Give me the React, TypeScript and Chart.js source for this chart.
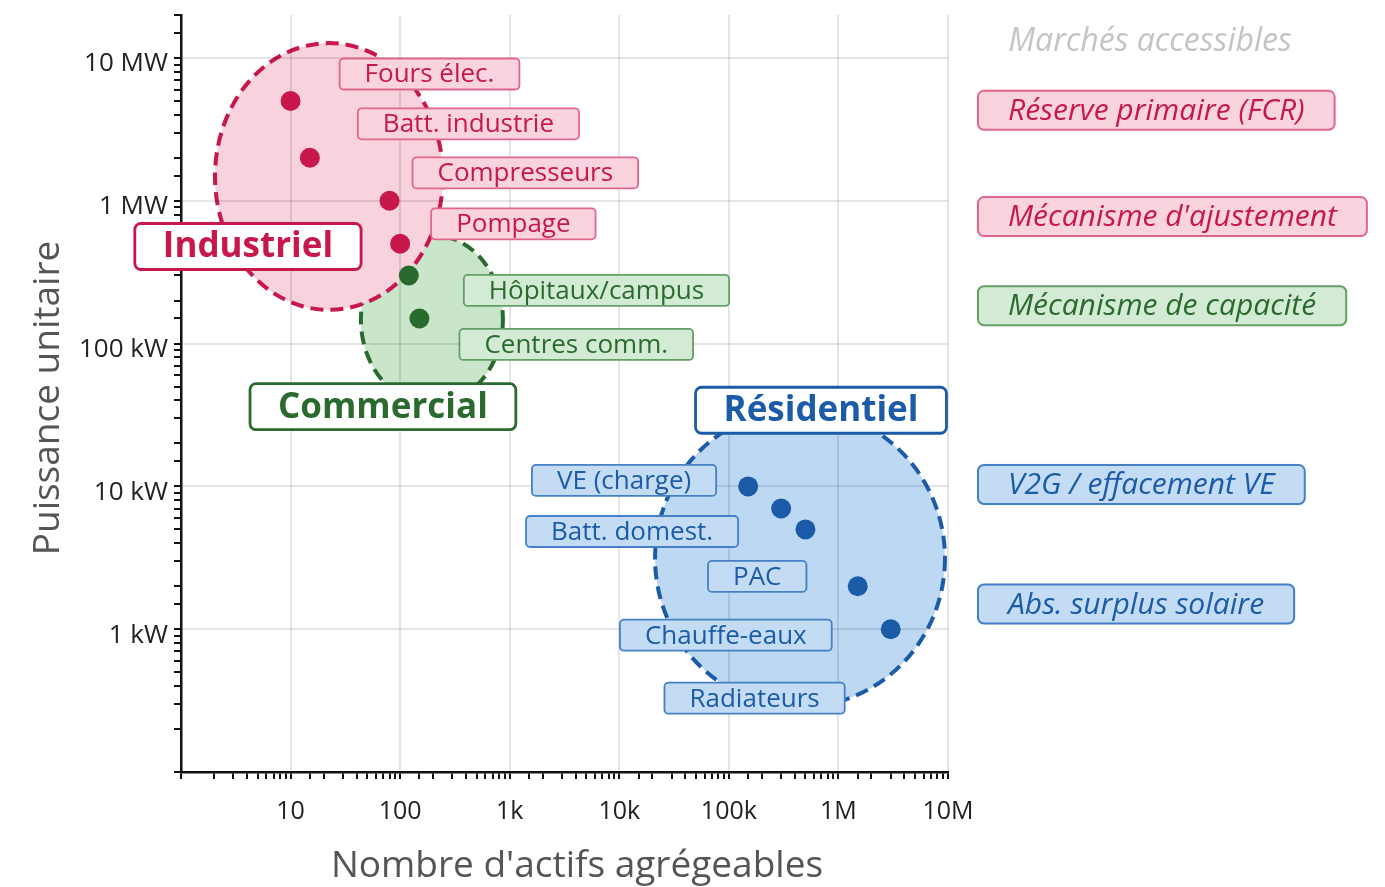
import React, { useEffect, useRef } from 'react';
import { Chart, registerables } from 'chart.js';

Chart.register(...registerables);

// ---------- DATA ----------
const industrialNames = ['Fours élec.', 'Batt. industrie', 'Compresseurs', 'Pompage'];
const industrialCount = [10, 15, 80, 100];
const industrialPowerKW = [5000, 2000, 1000, 500];

const commercialNames = ['Hôpitaux/campus', 'Centres comm.'];
const commercialCount = [120, 150];
const commercialPowerKW = [300, 150];

const residentialNames = ['VE (charge)', 'Batt. domest.', 'PAC', 'Chauffe-eaux', 'Radiateurs'];
const residentialCount = [150000, 300000, 500000, 1500000, 3000000];
const residentialPowerKW = [10, 7, 5, 2, 1];

const groupNames = ['Industriel', 'Commercial', 'Résidentiel'];
// zone (ellipse) centres in data units and half-spans in decades
const zoneCenterCount = [22.4, 195, 446000];
const zoneCenterKW = [1480, 147, 3.14];
const zoneSpanDecX = [1.04, 0.648, 1.323];
const zoneSpanDecY = [0.934, 0.594, 1.042];

const marketTitle = 'Marchés accessibles';
const marketNames = [
  'Réserve primaire (FCR)',
  "Mécanisme d'ajustement",
  'Mécanisme de capacité',
  'V2G / effacement VE',
  'Abs. surplus solaire',
];
const marketGroup = [0, 0, 1, 2, 2];
const marketLevelKW = [4300, 775, 184, 10.3, 1.5];

const xTickValues = [10, 100, 1000, 10000, 100000, 1000000, 10000000];
const xTickLabels = ['10', '100', '1k', '10k', '100k', '1M', '10M'];
const yTickValues = [1, 10, 100, 1000, 10000];
const yTickLabels = ['1 kW', '10 kW', '100 kW', '1 MW', '10 MW'];

const xTitle = "Nombre d'actifs agrégeables";
const yTitle = 'Puissance unitaire';

// ---------- STYLES / PLACEMENT ----------
const FONT = '"Open Sans", "Liberation Sans", sans-serif';
const STYLES = [
  { main: '#c8174b', zoneFill: '#f8d2dd', labelFill: '#f9d4df', labelBorder: '#e0678a', text: '#c8174b' },
  { main: '#2b6a2f', zoneFill: '#c9e6ca', labelFill: '#d3ebd4', labelBorder: '#64a066', text: '#2b6a2f' },
  { main: '#1b5ba7', zoneFill: '#bdd8f2', labelFill: '#c3dcf3', labelBorder: '#4580c6', text: '#1b5ba7' },
];
// pixel offsets of each item label box from its point
const industrialLabelOffsets = [[49, -27], [48, -34], [23, -28], [31, -20]];
const commercialLabelOffsets = [[55, 15], [40, 26]];
const residentialLabelOffsets = [[-32, -6], [-43, 23], [1, 47], [-26, 49], [-46, 69]];
const labelAnchors = ['left', 'left', 'right'];
// group label centre offsets from zone centre (pixels)
const groupLabelOffsets = [[-81, 70], [-49, 87], [21, -148]];

const groupsNames = [industrialNames, commercialNames, residentialNames];
const groupsCount = [industrialCount, commercialCount, residentialCount];
const groupsPower = [industrialPowerKW, commercialPowerKW, residentialPowerKW];
const groupsOffsets = [industrialLabelOffsets, commercialLabelOffsets, residentialLabelOffsets];

const isMajor = (v: number) => Math.abs(Math.log10(v) - Math.round(Math.log10(v))) < 1e-6;
const findLabel = (v: number, values: number[], labels: string[]) => {
  for (let i = 0; i < values.length; i++) {
    if (Math.abs(v - values[i]) / values[i] < 1e-6) return labels[i];
  }
  return '';
};

function rrect(ctx: CanvasRenderingContext2D, x: number, y: number, w: number, h: number, r: number) {
  ctx.beginPath();
  ctx.moveTo(x + r, y);
  ctx.lineTo(x + w - r, y);
  ctx.arcTo(x + w, y, x + w, y + r, r);
  ctx.lineTo(x + w, y + h - r);
  ctx.arcTo(x + w, y + h, x + w - r, y + h, r);
  ctx.lineTo(x + r, y + h);
  ctx.arcTo(x, y + h, x, y + h - r, r);
  ctx.lineTo(x, y + r);
  ctx.arcTo(x, y, x + r, y, r);
  ctx.closePath();
}

const overlayPlugin = {
  id: 'overlay',
  beforeDraw(chart: any) {
    const ctx: CanvasRenderingContext2D = chart.ctx;
    const xs = chart.scales.x;
    const ys = chart.scales.y;
    const order = [2, 1, 0];
    ctx.save();
    for (const g of order) {
      const cx = xs.getPixelForValue(zoneCenterCount[g]);
      const cy = ys.getPixelForValue(zoneCenterKW[g]);
      const rx = xs.getPixelForValue(zoneCenterCount[g] * Math.pow(10, zoneSpanDecX[g])) - cx;
      const ry = cy - ys.getPixelForValue(zoneCenterKW[g] * Math.pow(10, zoneSpanDecY[g]));
      ctx.beginPath();
      ctx.ellipse(cx, cy, rx, ry, 0, 0, Math.PI * 2);
      ctx.fillStyle = STYLES[g].zoneFill;
      ctx.fill();
      ctx.setLineDash([13, 7]);
      ctx.lineWidth = 4;
      ctx.strokeStyle = STYLES[g].main;
      ctx.stroke();
      ctx.setLineDash([]);
    }
    ctx.restore();
  },
  afterDatasetsDraw(chart: any) {
    const ctx: CanvasRenderingContext2D = chart.ctx;
    const xs = chart.scales.x;
    const ys = chart.scales.y;
    const area = chart.chartArea;
    ctx.save();
    ctx.textBaseline = 'middle';
    ctx.textAlign = 'center';

    // item labels
    ctx.font = `26px ${FONT}`;
    for (let g = 0; g < 3; g++) {
      const st = STYLES[g];
      groupsNames[g].forEach((name, i) => {
        const px = xs.getPixelForValue(groupsCount[g][i]);
        const py = ys.getPixelForValue(groupsPower[g][i]);
        const [dx, dy] = groupsOffsets[g][i];
        const w = ctx.measureText(name).width + 50;
        const h = 31;
        const left = labelAnchors[g] === 'left' ? px + dx : px + dx - w;
        const top = py + dy - h / 2;
        rrect(ctx, left, top, w, h, 4);
        ctx.fillStyle = st.labelFill;
        ctx.fill();
        ctx.lineWidth = 1.8;
        ctx.strokeStyle = st.labelBorder;
        ctx.stroke();
        ctx.fillStyle = st.text;
        ctx.fillText(name, left + w / 2, py + dy + 1);
      });
    }

    // group labels
    ctx.font = `bold 35px ${FONT}`;
    for (let g = 0; g < 3; g++) {
      const st = STYLES[g];
      const cx = xs.getPixelForValue(zoneCenterCount[g]) + groupLabelOffsets[g][0];
      const cy = ys.getPixelForValue(zoneCenterKW[g]) + groupLabelOffsets[g][1];
      const w = ctx.measureText(groupNames[g]).width + 56;
      const h = 46;
      rrect(ctx, cx - w / 2, cy - h / 2, w, h, 6);
      ctx.fillStyle = '#ffffff';
      ctx.fill();
      ctx.lineWidth = 2.8;
      ctx.strokeStyle = st.main;
      ctx.stroke();
      ctx.fillStyle = st.main;
      ctx.fillText(groupNames[g], cx, cy + 1);
    }

    // market column
    const mLeft = area.right + 30;
    ctx.font = `italic 32px ${FONT}`;
    ctx.fillStyle = '#c4c4c4';
    ctx.fillText(marketTitle, 1150, area.top + 27);
    ctx.font = `italic 30px ${FONT}`;
    marketNames.forEach((name, i) => {
      const st = STYLES[marketGroup[i]];
      const cy = ys.getPixelForValue(marketLevelKW[i]);
      const w = ctx.measureText(name).width + 60;
      const h = 39;
      ctx.save();
      ctx.shadowColor = 'rgba(0,0,0,0.08)';
      ctx.shadowBlur = 4;
      rrect(ctx, mLeft, cy - h / 2, w, h, 6);
      ctx.fillStyle = st.labelFill;
      ctx.fill();
      ctx.restore();
      rrect(ctx, mLeft, cy - h / 2, w, h, 6);
      ctx.lineWidth = 2;
      ctx.strokeStyle = st.labelBorder;
      ctx.stroke();
      ctx.fillStyle = st.text;
      ctx.fillText(name, mLeft + w / 2, cy + 1);
    });

    // axis titles
    ctx.fillStyle = '#555555';
    ctx.font = `37px ${FONT}`;
    ctx.fillText(xTitle, 577, 866);
    ctx.save();
    ctx.translate(48, 398);
    ctx.rotate(-Math.PI / 2);
    ctx.fillText(yTitle, 0, 0);
    ctx.restore();

    ctx.restore();
  },
};

export default function App() {
  const canvasRef = useRef<HTMLCanvasElement | null>(null);

  useEffect(() => {
    const canvas = canvasRef.current;
    if (!canvas) return;
    const datasets = [0, 1, 2].map((g) => ({
      label: groupNames[g],
      data: groupsCount[g].map((c, i) => ({ x: c, y: groupsPower[g][i] })),
      backgroundColor: STYLES[g].main,
      borderColor: STYLES[g].main,
      borderWidth: 0,
      pointRadius: 10,
      pointHoverRadius: 10,
    }));

    const chart = new Chart(canvas, {
      type: 'scatter',
      data: { datasets },
      plugins: [overlayPlugin],
      options: {
        responsive: false,
        animation: false,
        devicePixelRatio: 1,
        layout: { padding: { top: 15, right: 437, bottom: 0, left: 0 } },
        plugins: { legend: { display: false }, tooltip: { enabled: false } },
        scales: {
          x: {
            type: 'logarithmic',
            min: 1,
            max: 10000000,
            afterFit: (s: any) => {
              s.height = 115;
              s.paddingLeft = 0;
              s.paddingRight = 0;
            },
            border: { color: '#111111', width: 2.5 },
            grid: {
              color: (c: any) => (c.tick && isMajor(c.tick.value) ? 'rgba(0,0,0,0.10)' : 'rgba(0,0,0,0)'),
              lineWidth: 2,
              drawTicks: true,
              tickLength: 7,
              tickWidth: 2,
              tickColor: '#111111',
            },
            ticks: {
              autoSkip: false,
              maxRotation: 0,
              padding: 18,
              color: '#222222',
              font: { family: FONT, size: 25 },
              callback: (v: any) => findLabel(Number(v), xTickValues, xTickLabels),
            },
          },
          y: {
            type: 'logarithmic',
            min: 0.1,
            max: 20000,
            afterFit: (s: any) => {
              s.width = 181;
              s.paddingTop = 0;
              s.paddingBottom = 0;
            },
            border: { color: '#111111', width: 2.5 },
            grid: {
              color: (c: any) => (c.tick && isMajor(c.tick.value) ? 'rgba(0,0,0,0.10)' : 'rgba(0,0,0,0)'),
              lineWidth: 2,
              drawTicks: true,
              tickLength: 7,
              tickWidth: 2,
              tickColor: '#111111',
            },
            ticks: {
              autoSkip: false,
              padding: 6,
              labelOffset: 6,
              color: '#222222',
              font: { family: FONT, size: 26 },
              callback: (v: any) => findLabel(Number(v), yTickValues, yTickLabels),
            },
          },
        },
      } as any,
    });
    return () => chart.destroy();
  }, []);

  return (
    <div style={{ position: 'absolute', left: 0, top: 0, width: 1385, height: 887, background: '#ffffff' }}>
      <canvas ref={canvasRef} width={1385} height={887} style={{ display: 'block', width: 1385, height: 887 }} />
    </div>
  );
}
